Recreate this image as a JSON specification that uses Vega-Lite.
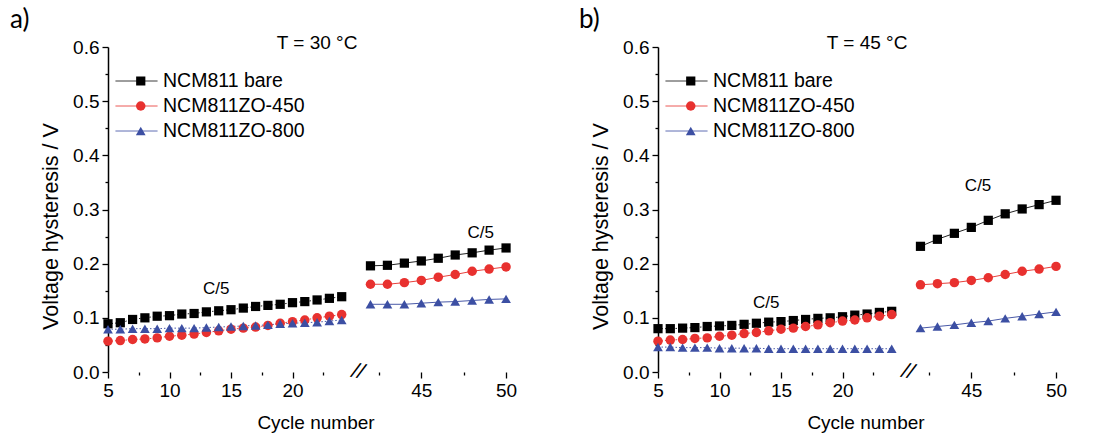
{
  "$schema": "https://vega.github.io/schema/vega-lite/v6.json",
  "padding": {"left": 10, "top": 7, "right": 5, "bottom": 5},
  "background": "white",
  "config": {
    "view": {"stroke": null},
    "font": "Liberation Sans",
    "axis": {
      "labelFont": "Liberation Sans",
      "labelColor": "black",
      "labelFontSize": 19,
      "titleFont": "Liberation Sans",
      "titleColor": "black",
      "titleFontSize": 19,
      "titleFontWeight": "normal",
      "tickColor": "black",
      "tickWidth": 1.3,
      "domainColor": "black",
      "domainWidth": 1.5,
      "grid": false,
      "labelOverlap": false,
      "labelFlush": false
    },
    "legend": {
      "labelFont": "Liberation Sans",
      "labelColor": "black",
      "labelFontSize": 19.5,
      "labelLimit": 400
    }
  },
  "datasets": {
    "hyst": [
      {"panel": "a", "series": "NCM811 bare", "cycle": 5, "v": 0.089},
      {"panel": "a", "series": "NCM811 bare", "cycle": 6, "v": 0.091},
      {"panel": "a", "series": "NCM811 bare", "cycle": 7, "v": 0.097},
      {"panel": "a", "series": "NCM811 bare", "cycle": 8, "v": 0.100},
      {"panel": "a", "series": "NCM811 bare", "cycle": 9, "v": 0.103},
      {"panel": "a", "series": "NCM811 bare", "cycle": 10, "v": 0.104},
      {"panel": "a", "series": "NCM811 bare", "cycle": 11, "v": 0.107},
      {"panel": "a", "series": "NCM811 bare", "cycle": 12, "v": 0.108},
      {"panel": "a", "series": "NCM811 bare", "cycle": 13, "v": 0.111},
      {"panel": "a", "series": "NCM811 bare", "cycle": 14, "v": 0.113},
      {"panel": "a", "series": "NCM811 bare", "cycle": 15, "v": 0.115},
      {"panel": "a", "series": "NCM811 bare", "cycle": 16, "v": 0.118},
      {"panel": "a", "series": "NCM811 bare", "cycle": 17, "v": 0.121},
      {"panel": "a", "series": "NCM811 bare", "cycle": 18, "v": 0.123},
      {"panel": "a", "series": "NCM811 bare", "cycle": 19, "v": 0.125},
      {"panel": "a", "series": "NCM811 bare", "cycle": 20, "v": 0.128},
      {"panel": "a", "series": "NCM811 bare", "cycle": 21, "v": 0.130},
      {"panel": "a", "series": "NCM811 bare", "cycle": 22, "v": 0.133},
      {"panel": "a", "series": "NCM811 bare", "cycle": 23, "v": 0.136},
      {"panel": "a", "series": "NCM811 bare", "cycle": 24, "v": 0.139},
      {"panel": "a", "series": "NCM811 bare", "cycle": 42, "v": 0.196},
      {"panel": "a", "series": "NCM811 bare", "cycle": 43, "v": 0.197},
      {"panel": "a", "series": "NCM811 bare", "cycle": 44, "v": 0.201},
      {"panel": "a", "series": "NCM811 bare", "cycle": 45, "v": 0.205},
      {"panel": "a", "series": "NCM811 bare", "cycle": 46, "v": 0.210},
      {"panel": "a", "series": "NCM811 bare", "cycle": 47, "v": 0.216},
      {"panel": "a", "series": "NCM811 bare", "cycle": 48, "v": 0.220},
      {"panel": "a", "series": "NCM811 bare", "cycle": 49, "v": 0.225},
      {"panel": "a", "series": "NCM811 bare", "cycle": 50, "v": 0.229},
      {"panel": "a", "series": "NCM811ZO-450", "cycle": 5, "v": 0.057},
      {"panel": "a", "series": "NCM811ZO-450", "cycle": 6, "v": 0.058},
      {"panel": "a", "series": "NCM811ZO-450", "cycle": 7, "v": 0.060},
      {"panel": "a", "series": "NCM811ZO-450", "cycle": 8, "v": 0.061},
      {"panel": "a", "series": "NCM811ZO-450", "cycle": 9, "v": 0.063},
      {"panel": "a", "series": "NCM811ZO-450", "cycle": 10, "v": 0.066},
      {"panel": "a", "series": "NCM811ZO-450", "cycle": 11, "v": 0.068},
      {"panel": "a", "series": "NCM811ZO-450", "cycle": 12, "v": 0.070},
      {"panel": "a", "series": "NCM811ZO-450", "cycle": 13, "v": 0.073},
      {"panel": "a", "series": "NCM811ZO-450", "cycle": 14, "v": 0.076},
      {"panel": "a", "series": "NCM811ZO-450", "cycle": 15, "v": 0.079},
      {"panel": "a", "series": "NCM811ZO-450", "cycle": 16, "v": 0.081},
      {"panel": "a", "series": "NCM811ZO-450", "cycle": 17, "v": 0.083},
      {"panel": "a", "series": "NCM811ZO-450", "cycle": 18, "v": 0.086},
      {"panel": "a", "series": "NCM811ZO-450", "cycle": 19, "v": 0.090},
      {"panel": "a", "series": "NCM811ZO-450", "cycle": 20, "v": 0.093},
      {"panel": "a", "series": "NCM811ZO-450", "cycle": 21, "v": 0.096},
      {"panel": "a", "series": "NCM811ZO-450", "cycle": 22, "v": 0.100},
      {"panel": "a", "series": "NCM811ZO-450", "cycle": 23, "v": 0.103},
      {"panel": "a", "series": "NCM811ZO-450", "cycle": 24, "v": 0.106},
      {"panel": "a", "series": "NCM811ZO-450", "cycle": 42, "v": 0.162},
      {"panel": "a", "series": "NCM811ZO-450", "cycle": 43, "v": 0.162},
      {"panel": "a", "series": "NCM811ZO-450", "cycle": 44, "v": 0.165},
      {"panel": "a", "series": "NCM811ZO-450", "cycle": 45, "v": 0.169},
      {"panel": "a", "series": "NCM811ZO-450", "cycle": 46, "v": 0.175},
      {"panel": "a", "series": "NCM811ZO-450", "cycle": 47, "v": 0.180},
      {"panel": "a", "series": "NCM811ZO-450", "cycle": 48, "v": 0.186},
      {"panel": "a", "series": "NCM811ZO-450", "cycle": 49, "v": 0.190},
      {"panel": "a", "series": "NCM811ZO-450", "cycle": 50, "v": 0.194},
      {"panel": "a", "series": "NCM811ZO-800", "cycle": 5, "v": 0.079},
      {"panel": "a", "series": "NCM811ZO-800", "cycle": 6, "v": 0.079},
      {"panel": "a", "series": "NCM811ZO-800", "cycle": 7, "v": 0.080},
      {"panel": "a", "series": "NCM811ZO-800", "cycle": 8, "v": 0.080},
      {"panel": "a", "series": "NCM811ZO-800", "cycle": 9, "v": 0.080},
      {"panel": "a", "series": "NCM811ZO-800", "cycle": 10, "v": 0.081},
      {"panel": "a", "series": "NCM811ZO-800", "cycle": 11, "v": 0.081},
      {"panel": "a", "series": "NCM811ZO-800", "cycle": 12, "v": 0.081},
      {"panel": "a", "series": "NCM811ZO-800", "cycle": 13, "v": 0.082},
      {"panel": "a", "series": "NCM811ZO-800", "cycle": 14, "v": 0.083},
      {"panel": "a", "series": "NCM811ZO-800", "cycle": 15, "v": 0.084},
      {"panel": "a", "series": "NCM811ZO-800", "cycle": 16, "v": 0.085},
      {"panel": "a", "series": "NCM811ZO-800", "cycle": 17, "v": 0.086},
      {"panel": "a", "series": "NCM811ZO-800", "cycle": 18, "v": 0.087},
      {"panel": "a", "series": "NCM811ZO-800", "cycle": 19, "v": 0.089},
      {"panel": "a", "series": "NCM811ZO-800", "cycle": 20, "v": 0.090},
      {"panel": "a", "series": "NCM811ZO-800", "cycle": 21, "v": 0.091},
      {"panel": "a", "series": "NCM811ZO-800", "cycle": 22, "v": 0.092},
      {"panel": "a", "series": "NCM811ZO-800", "cycle": 23, "v": 0.094},
      {"panel": "a", "series": "NCM811ZO-800", "cycle": 24, "v": 0.096},
      {"panel": "a", "series": "NCM811ZO-800", "cycle": 42, "v": 0.125},
      {"panel": "a", "series": "NCM811ZO-800", "cycle": 43, "v": 0.125},
      {"panel": "a", "series": "NCM811ZO-800", "cycle": 44, "v": 0.125},
      {"panel": "a", "series": "NCM811ZO-800", "cycle": 45, "v": 0.127},
      {"panel": "a", "series": "NCM811ZO-800", "cycle": 46, "v": 0.129},
      {"panel": "a", "series": "NCM811ZO-800", "cycle": 47, "v": 0.130},
      {"panel": "a", "series": "NCM811ZO-800", "cycle": 48, "v": 0.132},
      {"panel": "a", "series": "NCM811ZO-800", "cycle": 49, "v": 0.134},
      {"panel": "a", "series": "NCM811ZO-800", "cycle": 50, "v": 0.135},
      {"panel": "b", "series": "NCM811 bare", "cycle": 5, "v": 0.080},
      {"panel": "b", "series": "NCM811 bare", "cycle": 6, "v": 0.080},
      {"panel": "b", "series": "NCM811 bare", "cycle": 7, "v": 0.081},
      {"panel": "b", "series": "NCM811 bare", "cycle": 8, "v": 0.082},
      {"panel": "b", "series": "NCM811 bare", "cycle": 9, "v": 0.084},
      {"panel": "b", "series": "NCM811 bare", "cycle": 10, "v": 0.085},
      {"panel": "b", "series": "NCM811 bare", "cycle": 11, "v": 0.086},
      {"panel": "b", "series": "NCM811 bare", "cycle": 12, "v": 0.088},
      {"panel": "b", "series": "NCM811 bare", "cycle": 13, "v": 0.090},
      {"panel": "b", "series": "NCM811 bare", "cycle": 14, "v": 0.092},
      {"panel": "b", "series": "NCM811 bare", "cycle": 15, "v": 0.093},
      {"panel": "b", "series": "NCM811 bare", "cycle": 16, "v": 0.095},
      {"panel": "b", "series": "NCM811 bare", "cycle": 17, "v": 0.097},
      {"panel": "b", "series": "NCM811 bare", "cycle": 18, "v": 0.099},
      {"panel": "b", "series": "NCM811 bare", "cycle": 19, "v": 0.100},
      {"panel": "b", "series": "NCM811 bare", "cycle": 20, "v": 0.102},
      {"panel": "b", "series": "NCM811 bare", "cycle": 21, "v": 0.105},
      {"panel": "b", "series": "NCM811 bare", "cycle": 22, "v": 0.107},
      {"panel": "b", "series": "NCM811 bare", "cycle": 23, "v": 0.110},
      {"panel": "b", "series": "NCM811 bare", "cycle": 24, "v": 0.112},
      {"panel": "b", "series": "NCM811 bare", "cycle": 42, "v": 0.232},
      {"panel": "b", "series": "NCM811 bare", "cycle": 43, "v": 0.245},
      {"panel": "b", "series": "NCM811 bare", "cycle": 44, "v": 0.256},
      {"panel": "b", "series": "NCM811 bare", "cycle": 45, "v": 0.267},
      {"panel": "b", "series": "NCM811 bare", "cycle": 46, "v": 0.280},
      {"panel": "b", "series": "NCM811 bare", "cycle": 47, "v": 0.292},
      {"panel": "b", "series": "NCM811 bare", "cycle": 48, "v": 0.301},
      {"panel": "b", "series": "NCM811 bare", "cycle": 49, "v": 0.309},
      {"panel": "b", "series": "NCM811 bare", "cycle": 50, "v": 0.317},
      {"panel": "b", "series": "NCM811ZO-450", "cycle": 5, "v": 0.057},
      {"panel": "b", "series": "NCM811ZO-450", "cycle": 6, "v": 0.059},
      {"panel": "b", "series": "NCM811ZO-450", "cycle": 7, "v": 0.060},
      {"panel": "b", "series": "NCM811ZO-450", "cycle": 8, "v": 0.062},
      {"panel": "b", "series": "NCM811ZO-450", "cycle": 9, "v": 0.063},
      {"panel": "b", "series": "NCM811ZO-450", "cycle": 10, "v": 0.066},
      {"panel": "b", "series": "NCM811ZO-450", "cycle": 11, "v": 0.068},
      {"panel": "b", "series": "NCM811ZO-450", "cycle": 12, "v": 0.071},
      {"panel": "b", "series": "NCM811ZO-450", "cycle": 13, "v": 0.073},
      {"panel": "b", "series": "NCM811ZO-450", "cycle": 14, "v": 0.076},
      {"panel": "b", "series": "NCM811ZO-450", "cycle": 15, "v": 0.079},
      {"panel": "b", "series": "NCM811ZO-450", "cycle": 16, "v": 0.081},
      {"panel": "b", "series": "NCM811ZO-450", "cycle": 17, "v": 0.084},
      {"panel": "b", "series": "NCM811ZO-450", "cycle": 18, "v": 0.087},
      {"panel": "b", "series": "NCM811ZO-450", "cycle": 19, "v": 0.091},
      {"panel": "b", "series": "NCM811ZO-450", "cycle": 20, "v": 0.094},
      {"panel": "b", "series": "NCM811ZO-450", "cycle": 21, "v": 0.096},
      {"panel": "b", "series": "NCM811ZO-450", "cycle": 22, "v": 0.100},
      {"panel": "b", "series": "NCM811ZO-450", "cycle": 23, "v": 0.103},
      {"panel": "b", "series": "NCM811ZO-450", "cycle": 24, "v": 0.106},
      {"panel": "b", "series": "NCM811ZO-450", "cycle": 42, "v": 0.161},
      {"panel": "b", "series": "NCM811ZO-450", "cycle": 43, "v": 0.163},
      {"panel": "b", "series": "NCM811ZO-450", "cycle": 44, "v": 0.165},
      {"panel": "b", "series": "NCM811ZO-450", "cycle": 45, "v": 0.169},
      {"panel": "b", "series": "NCM811ZO-450", "cycle": 46, "v": 0.174},
      {"panel": "b", "series": "NCM811ZO-450", "cycle": 47, "v": 0.180},
      {"panel": "b", "series": "NCM811ZO-450", "cycle": 48, "v": 0.186},
      {"panel": "b", "series": "NCM811ZO-450", "cycle": 49, "v": 0.190},
      {"panel": "b", "series": "NCM811ZO-450", "cycle": 50, "v": 0.195},
      {"panel": "b", "series": "NCM811ZO-800", "cycle": 5, "v": 0.046},
      {"panel": "b", "series": "NCM811ZO-800", "cycle": 6, "v": 0.046},
      {"panel": "b", "series": "NCM811ZO-800", "cycle": 7, "v": 0.045},
      {"panel": "b", "series": "NCM811ZO-800", "cycle": 8, "v": 0.045},
      {"panel": "b", "series": "NCM811ZO-800", "cycle": 9, "v": 0.045},
      {"panel": "b", "series": "NCM811ZO-800", "cycle": 10, "v": 0.044},
      {"panel": "b", "series": "NCM811ZO-800", "cycle": 11, "v": 0.044},
      {"panel": "b", "series": "NCM811ZO-800", "cycle": 12, "v": 0.044},
      {"panel": "b", "series": "NCM811ZO-800", "cycle": 13, "v": 0.044},
      {"panel": "b", "series": "NCM811ZO-800", "cycle": 14, "v": 0.043},
      {"panel": "b", "series": "NCM811ZO-800", "cycle": 15, "v": 0.043},
      {"panel": "b", "series": "NCM811ZO-800", "cycle": 16, "v": 0.043},
      {"panel": "b", "series": "NCM811ZO-800", "cycle": 17, "v": 0.043},
      {"panel": "b", "series": "NCM811ZO-800", "cycle": 18, "v": 0.043},
      {"panel": "b", "series": "NCM811ZO-800", "cycle": 19, "v": 0.043},
      {"panel": "b", "series": "NCM811ZO-800", "cycle": 20, "v": 0.043},
      {"panel": "b", "series": "NCM811ZO-800", "cycle": 21, "v": 0.043},
      {"panel": "b", "series": "NCM811ZO-800", "cycle": 22, "v": 0.043},
      {"panel": "b", "series": "NCM811ZO-800", "cycle": 23, "v": 0.043},
      {"panel": "b", "series": "NCM811ZO-800", "cycle": 24, "v": 0.043},
      {"panel": "b", "series": "NCM811ZO-800", "cycle": 42, "v": 0.081},
      {"panel": "b", "series": "NCM811ZO-800", "cycle": 43, "v": 0.084},
      {"panel": "b", "series": "NCM811ZO-800", "cycle": 44, "v": 0.087},
      {"panel": "b", "series": "NCM811ZO-800", "cycle": 45, "v": 0.091},
      {"panel": "b", "series": "NCM811ZO-800", "cycle": 46, "v": 0.094},
      {"panel": "b", "series": "NCM811ZO-800", "cycle": 47, "v": 0.099},
      {"panel": "b", "series": "NCM811ZO-800", "cycle": 48, "v": 0.103},
      {"panel": "b", "series": "NCM811ZO-800", "cycle": 49, "v": 0.107},
      {"panel": "b", "series": "NCM811ZO-800", "cycle": 50, "v": 0.111}
    ],
    "notes": [
      {"panel": "a", "label": "C/5", "cycle": 13.8, "v": 0.153},
      {"panel": "a", "label": "C/5", "cycle": 48.5, "v": 0.256},
      {"panel": "b", "label": "C/5", "cycle": 13.8, "v": 0.128},
      {"panel": "b", "label": "C/5", "cycle": 45.4, "v": 0.343}
    ],
    "temps": [
      {"panel": "a", "label": "T = 30 °C", "cycle": 22, "v": 0.607},
      {"panel": "b", "label": "T = 45 °C", "cycle": 22, "v": 0.607}
    ],
    "axisbreak": [
      {"label": "//", "cycle": 33, "v": 0}
    ]
  },
  "resolve": {
    "scale": {"color": "independent", "shape": "independent", "stroke": "independent", "size": "independent"},
    "legend": {"color": "independent", "shape": "independent", "stroke": "independent"}
  },
  "spacing": 56,
  "hconcat": [
    {
      "width": 415,
      "height": 325,
      "title": {"text": "a)", "anchor": "start", "frame": "group", "dx": -98, "offset": 1, "font": "Lato", "fontSize": 26, "fontWeight": "normal", "color": "black"},
      "data": {"name": "hyst"},
      "transform": [{"filter": "datum.panel === 'a'"}],
      "encoding": {
        "x": {
          "field": "cycle", "type": "quantitative",
          "scale": {"domain": [5, 25, 41.5, 51], "range": [0, 246, 254, 415], "nice": false, "zero": false},
          "axis": {
            "title": "Cycle number",
            "values": [5, 7.5, 10, 12.5, 15, 17.5, 20, 22.5, 42.5, 45, 47.5, 50],
            "labelExpr": "datum.value % 5 === 0 ? datum.label : ''",
            "tickSize": {"condition": {"test": "datum.value % 5 !== 0", "value": 3}, "value": 6},
            "domain": false,
            "labelPadding": 3,
            "titlePadding": 13
          }
        },
        "y": {
          "field": "v", "type": "quantitative",
          "scale": {"domain": [0, 0.6], "nice": false},
          "axis": {
            "title": "Voltage hysteresis / V",
            "titleFontSize": 21.5,
            "titleY": 179,
            "values": [0, 0.05, 0.1, 0.15, 0.2, 0.25, 0.3, 0.35, 0.4, 0.45, 0.5, 0.55, 0.6],
            "format": ".1f",
            "labelExpr": "round(datum.value * 100) % 10 === 0 ? datum.label : ''",
            "tickSize": {"condition": {"test": "round(datum.value * 100) % 10 !== 0", "value": 3}, "value": 6},
            "labelPadding": 3,
            "titlePadding": 10
          }
        }
      },
      "layer": [
        {
          "data": {"values": [{}]},
          "mark": {"type": "rule", "color": "black", "strokeWidth": 1.5},
          "encoding": {"x": {"datum": 5}, "x2": {"datum": 25}, "y": {"datum": 0}}
        },
        {
          "data": {"values": [{}]},
          "mark": {"type": "rule", "color": "black", "strokeWidth": 1.5},
          "encoding": {"x": {"datum": 41.5}, "x2": {"datum": 51}, "y": {"datum": 0}}
        },
        {
          "data": {"name": "axisbreak"},
          "mark": {"type": "text", "fontSize": 21, "fontStyle": "italic", "color": "black", "baseline": "middle", "align": "center", "angle": 12},
          "encoding": {"text": {"field": "label"}}
        },
        {
          "transform": [{"filter": "datum.cycle > 30"}],
          "mark": {"type": "line", "strokeWidth": 1},
          "encoding": {
            "stroke": {
              "field": "series", "type": "nominal",
              "scale": {"range": ["#222222", "#e8403c", "#4a5aa8"]},
              "legend": {"orient": "none", "legendX": 7, "legendY": 22, "title": null, "symbolType": "stroke", "symbolSize": 1764, "symbolStrokeWidth": 1, "symbolDash": [1, 0], "clipHeight": 24, "rowPadding": 1, "labelOffset": 5, "padding": 0}
            }
          }
        },
        {
          "transform": [{"filter": "datum.cycle < 30"}],
          "mark": {"type": "line", "strokeWidth": 1, "strokeDash": [1.5, 2]},
          "encoding": {"stroke": {"field": "series", "type": "nominal"}}
        },
        {
          "mark": {"type": "point", "filled": true, "opacity": 1},
          "encoding": {
            "color": {
              "field": "series", "type": "nominal",
              "scale": {"domain": ["NCM811 bare", "NCM811ZO-450", "NCM811ZO-800"], "range": ["#000000", "#e8312f", "#3c4fa3"]},
              "legend": {"orient": "none", "legendX": 7, "legendY": 22, "title": null, "symbolSize": 64, "symbolOffset": 16, "clipHeight": 24, "rowPadding": 1, "labelExpr": "''", "padding": 0, "symbolOpacity": 1}
            },
            "shape": {
              "field": "series", "type": "nominal",
              "scale": {"domain": ["NCM811 bare", "NCM811ZO-450", "NCM811ZO-800"], "range": ["square", "circle", "triangle-up"]},
              "legend": {"orient": "none", "legendX": 7, "legendY": 22, "title": null, "symbolSize": 64, "symbolOffset": 16, "clipHeight": 24, "rowPadding": 1, "labelExpr": "''", "padding": 0, "symbolOpacity": 1}
            },
            "size": {
              "field": "series", "type": "nominal",
              "scale": {"domain": ["NCM811 bare", "NCM811ZO-450", "NCM811ZO-800"], "range": [85, 95, 115]},
              "legend": null
            }
          }
        },
        {
          "data": {"name": "notes"},
          "transform": [{"filter": "datum.panel === 'a'"}],
          "mark": {"type": "text", "fontSize": 17, "color": "black", "baseline": "middle", "align": "center"},
          "encoding": {"text": {"field": "label"}}
        },
        {
          "data": {"name": "temps"},
          "transform": [{"filter": "datum.panel === 'a'"}],
          "mark": {"type": "text", "fontSize": 19, "color": "black", "baseline": "middle", "align": "center"},
          "encoding": {"text": {"field": "label"}}
        }
      ]
    },
    {
      "width": 415,
      "height": 325,
      "title": {"text": "b)", "anchor": "start", "frame": "group", "dx": -79, "offset": 1, "font": "Lato", "fontSize": 26, "fontWeight": "normal", "color": "black"},
      "data": {"name": "hyst"},
      "transform": [{"filter": "datum.panel === 'b'"}],
      "encoding": {
        "x": {
          "field": "cycle", "type": "quantitative",
          "scale": {"domain": [5, 25, 41.5, 51], "range": [0, 246, 254, 415], "nice": false, "zero": false},
          "axis": {
            "title": "Cycle number",
            "values": [5, 7.5, 10, 12.5, 15, 17.5, 20, 22.5, 42.5, 45, 47.5, 50],
            "labelExpr": "datum.value % 5 === 0 ? datum.label : ''",
            "tickSize": {"condition": {"test": "datum.value % 5 !== 0", "value": 3}, "value": 6},
            "domain": false,
            "labelPadding": 3,
            "titlePadding": 13
          }
        },
        "y": {
          "field": "v", "type": "quantitative",
          "scale": {"domain": [0, 0.6], "nice": false},
          "axis": {
            "title": "Voltage hysteresis / V",
            "titleFontSize": 21.5,
            "titleY": 179,
            "values": [0, 0.05, 0.1, 0.15, 0.2, 0.25, 0.3, 0.35, 0.4, 0.45, 0.5, 0.55, 0.6],
            "format": ".1f",
            "labelExpr": "round(datum.value * 100) % 10 === 0 ? datum.label : ''",
            "tickSize": {"condition": {"test": "round(datum.value * 100) % 10 !== 0", "value": 3}, "value": 6},
            "labelPadding": 3,
            "titlePadding": 10
          }
        }
      },
      "layer": [
        {
          "data": {"values": [{}]},
          "mark": {"type": "rule", "color": "black", "strokeWidth": 1.5},
          "encoding": {"x": {"datum": 5}, "x2": {"datum": 25}, "y": {"datum": 0}}
        },
        {
          "data": {"values": [{}]},
          "mark": {"type": "rule", "color": "black", "strokeWidth": 1.5},
          "encoding": {"x": {"datum": 41.5}, "x2": {"datum": 51}, "y": {"datum": 0}}
        },
        {
          "data": {"name": "axisbreak"},
          "mark": {"type": "text", "fontSize": 21, "fontStyle": "italic", "color": "black", "baseline": "middle", "align": "center", "angle": 12},
          "encoding": {"text": {"field": "label"}}
        },
        {
          "transform": [{"filter": "datum.cycle > 30"}],
          "mark": {"type": "line", "strokeWidth": 1},
          "encoding": {
            "stroke": {
              "field": "series", "type": "nominal",
              "scale": {"range": ["#222222", "#e8403c", "#4a5aa8"]},
              "legend": {"orient": "none", "legendX": 7, "legendY": 22, "title": null, "symbolType": "stroke", "symbolSize": 1764, "symbolStrokeWidth": 1, "symbolDash": [1, 0], "clipHeight": 24, "rowPadding": 1, "labelOffset": 5, "padding": 0}
            }
          }
        },
        {
          "transform": [{"filter": "datum.cycle < 30"}],
          "mark": {"type": "line", "strokeWidth": 1, "strokeDash": [1.5, 2]},
          "encoding": {"stroke": {"field": "series", "type": "nominal"}}
        },
        {
          "mark": {"type": "point", "filled": true, "opacity": 1},
          "encoding": {
            "color": {
              "field": "series", "type": "nominal",
              "scale": {"domain": ["NCM811 bare", "NCM811ZO-450", "NCM811ZO-800"], "range": ["#000000", "#e8312f", "#3c4fa3"]},
              "legend": {"orient": "none", "legendX": 7, "legendY": 22, "title": null, "symbolSize": 64, "symbolOffset": 16, "clipHeight": 24, "rowPadding": 1, "labelExpr": "''", "padding": 0, "symbolOpacity": 1}
            },
            "shape": {
              "field": "series", "type": "nominal",
              "scale": {"domain": ["NCM811 bare", "NCM811ZO-450", "NCM811ZO-800"], "range": ["square", "circle", "triangle-up"]},
              "legend": {"orient": "none", "legendX": 7, "legendY": 22, "title": null, "symbolSize": 64, "symbolOffset": 16, "clipHeight": 24, "rowPadding": 1, "labelExpr": "''", "padding": 0, "symbolOpacity": 1}
            },
            "size": {
              "field": "series", "type": "nominal",
              "scale": {"domain": ["NCM811 bare", "NCM811ZO-450", "NCM811ZO-800"], "range": [85, 95, 115]},
              "legend": null
            }
          }
        },
        {
          "data": {"name": "notes"},
          "transform": [{"filter": "datum.panel === 'b'"}],
          "mark": {"type": "text", "fontSize": 17, "color": "black", "baseline": "middle", "align": "center"},
          "encoding": {"text": {"field": "label"}}
        },
        {
          "data": {"name": "temps"},
          "transform": [{"filter": "datum.panel === 'b'"}],
          "mark": {"type": "text", "fontSize": 19, "color": "black", "baseline": "middle", "align": "center"},
          "encoding": {"text": {"field": "label"}}
        }
      ]
    }
  ]
}
